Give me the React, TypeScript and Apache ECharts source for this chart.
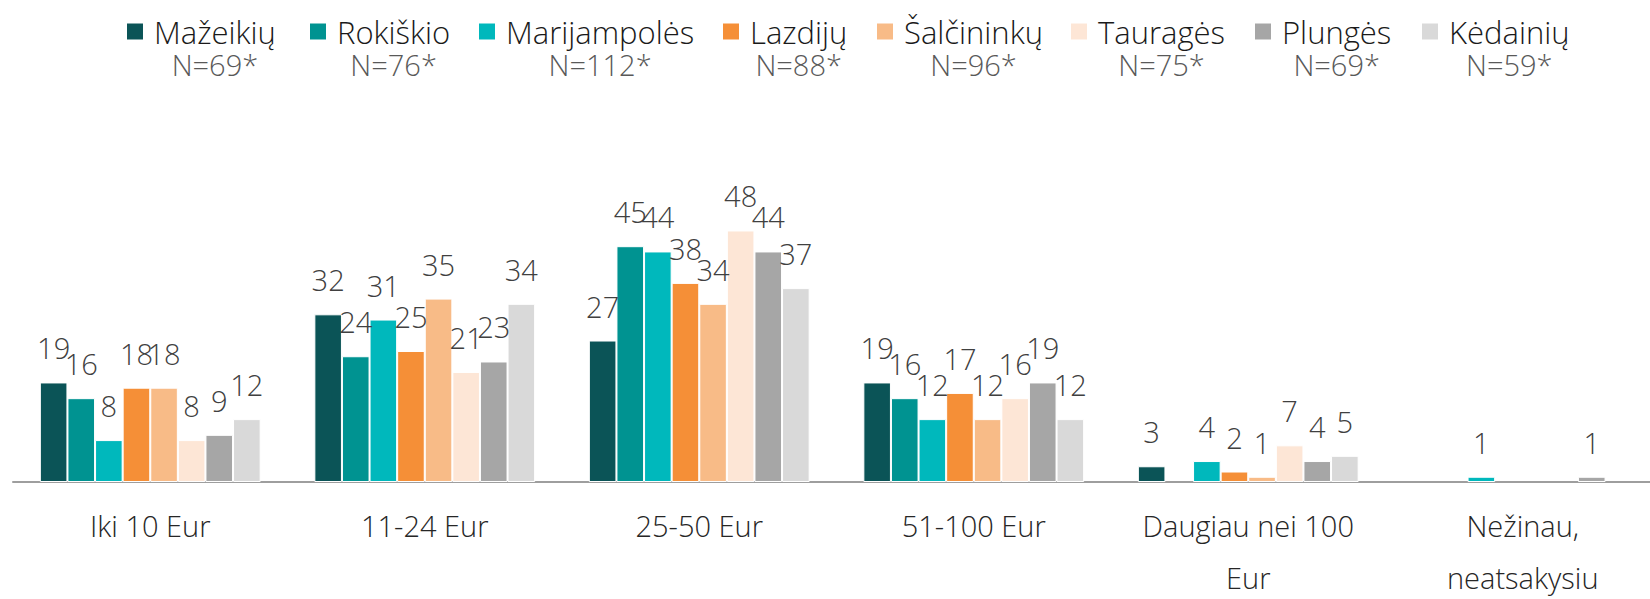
import React, { useEffect, useRef } from "react";
import * as echarts from "echarts";

const categories = ["Iki 10 Eur", "11-24 Eur", "25-50 Eur", "51-100 Eur", "Daugiau nei 100\nEur", "Nežinau,\nneatsakysiu"];
const seriesNames = ["Mažeikių", "Rokiškio", "Marijampolės", "Lazdijų", "Šalčininkų", "Tauragės", "Plungės", "Kėdainių"];
const sampleSizes = ["N=69*", "N=76*", "N=112*", "N=88*", "N=96*", "N=75*", "N=69*", "N=59*"];
const colors = ["#0b5457", "#009391", "#00b8bc", "#f58f37", "#f8bb87", "#fde6d6", "#a6a6a6", "#d9d9d9"];

const mazeikiu = [19, 32, 27, 19, 3, null];
const rokiskio = [16, 24, 45, 16, null, null];
const marijampoles = [8, 31, 44, 12, 4, 1];
const lazdiju = [18, 25, 38, 17, 2, null];
const salcininku = [18, 35, 34, 12, 1, null];
const taurages = [8, 21, 48, 16, 7, null];
const plunges = [9, 23, 44, 19, 4, 1];
const kedainiu = [12, 34, 37, 12, 5, null];

const seriesValues = [mazeikiu, rokiskio, marijampoles, lazdiju, salcininku, taurages, plunges, kedainiu];
const legendLeft = [125, 308, 477, 721, 875, 1069, 1253, 1420];

const FONT = "'Open Sans', 'Segoe UI', sans-serif";

export default function App() {
  const ref = useRef<HTMLDivElement>(null);
  useEffect(() => {
    if (!ref.current) return;
    const chart = echarts.init(ref.current, undefined, { renderer: "svg" });
    const legends = seriesNames.map((n, i) => ({
      show: true,
      data: [n],
      left: legendLeft[i],
      top: 16,
      padding: 0,
      selectedMode: false,
      itemWidth: 23,
      itemHeight: 51,
      icon: "path://M0,0H18V18H0Z M23,51h0.01v0.01h-0.01Z",
      formatter: (name: string) => `{a|${name}}\n{b|${sampleSizes[i]}}`,
      textStyle: {
        rich: {
          a: { fontFamily: FONT, fontWeight: 300, fontSize: 31, lineHeight: 33, color: "#1a1a1a", align: "center" },
          b: { fontFamily: FONT, fontWeight: 300, fontSize: 29, lineHeight: 33, color: "#595959", align: "center" },
        },
      },
    }));
    chart.setOption({
      animation: false,
      legend: legends,
      grid: { left: 13, width: 1647, top: 167.6, bottom: 117, containLabel: false, outerBoundsMode: "none" },
      xAxis: {
        type: "category",
        data: categories,
        axisLine: { show: true, lineStyle: { color: "#9e9e9e", width: 2 } },
        axisTick: { show: false },
        axisLabel: {
          interval: 0,
          margin: 17,
          fontFamily: FONT,
          fontWeight: 300,
          fontSize: 29,
          lineHeight: 52,
          color: "#262626",
        },
      },
      yAxis: { type: "value", min: 0, max: 60, show: false, splitLine: { show: false } },
      series: seriesNames.map((n, i) => ({
        name: n,
        type: "bar",
        data: seriesValues[i],
        barWidth: 27.6,
        barGap: "0%",
        itemStyle: { color: colors[i], borderColor: "#ffffff", borderWidth: 1 },
        label: {
          show: true,
          position: "top",
          distance: 20,
          fontFamily: FONT,
          fontWeight: 300,
          fontSize: 29,
          lineHeight: 29,
          color: "#404040",
          formatter: (p: any) => (p.value == null ? "" : String(p.value)),
        },
      })),
    });
    return () => chart.dispose();
  }, []);
  return <div ref={ref} style={{ position: "absolute", left: 0, top: 0, width: 1650, height: 599 }} />;
}
